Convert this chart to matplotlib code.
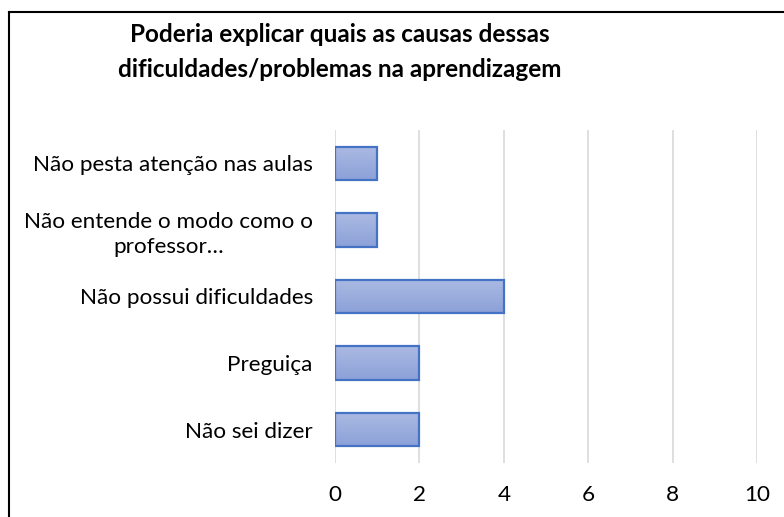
import numpy as np
import matplotlib.pyplot as plt
from matplotlib.lines import Line2D
from matplotlib.colors import LinearSegmentedColormap

# categories bottom -> top
categories = ['Não sei dizer', 'Preguiça', 'Não possui dificuldades',
              'Não entende o modo como o\nprofessor…', 'Não pesta atenção nas aulas']
values = [2, 2, 4, 1, 1]
xticks = [0, 2, 4, 6, 8, 10]
title = 'Poderia explicar quais as causas dessas\ndificuldades/problemas na aprendizagem'

plt.rcParams['font.family'] = ['Lato', 'DejaVu Sans']

fig = plt.figure(figsize=(7.84, 5.17), dpi=100)
W, H = 784, 517
ax = fig.add_axes([335 / W, 1 - 463 / H, (757 - 335) / W, (463 - 130) / H])

y = list(range(len(categories)))
bars = ax.barh(y, values, height=0.5, color='none', edgecolor='#4472C4', linewidth=1.6, zorder=4)

# vertical gradient fill inside each bar
grad = LinearSegmentedColormap.from_list('g', ['#8CA1D8', '#ABBAE3'])
for b in bars:
    x0, y0, w, h = b.get_x(), b.get_y(), b.get_width(), b.get_height()
    ax.imshow(np.linspace(0, 1, 64).reshape(-1, 1), cmap=grad, aspect='auto',
              extent=(x0, x0 + w, y0, y0 + h), origin='lower', zorder=3)

ax.set_xlim(0, 10)
ax.set_ylim(-0.5, len(categories) - 0.5)
ax.set_xticks(xticks)
ax.set_yticks(y)
ax.set_yticklabels(categories, multialignment='center', linespacing=1.3)
ax.tick_params(axis='both', length=0, labelsize=16.2, colors='#000000')
ax.tick_params(axis='y', pad=16)
ax.tick_params(axis='x', pad=16)
ax.grid(axis='x', color='#D9D9D9', linewidth=1.2, zorder=0)
for s in ax.spines.values():
    s.set_visible(False)

fig.text(340 / W, 1 - 52 / H, title, ha='center', va='center', fontsize=17.5,
         fontweight='bold', linespacing=1.6)

# chart border (top and left visible)
fig.add_artist(Line2D([9 / W, 1], [1 - 12 / H, 1 - 12 / H], transform=fig.transFigure, color='black', linewidth=1.5))
fig.add_artist(Line2D([9 / W, 9 / W], [0, 1 - 12 / H], transform=fig.transFigure, color='black', linewidth=1.5))

fig.savefig('out.png', dpi=100)
